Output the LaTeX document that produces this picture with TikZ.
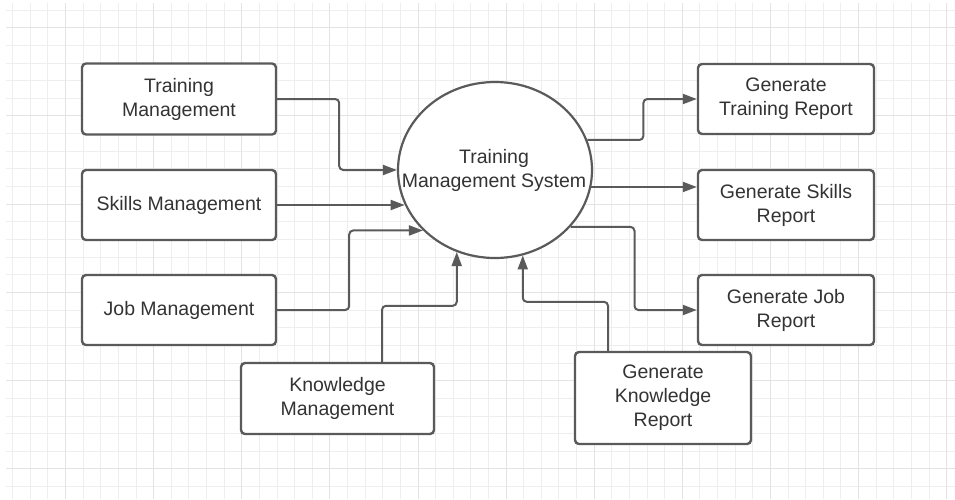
\documentclass[tikz,border=0pt]{standalone}
\usepackage{fontspec}
\setmainfont{Liberation Sans}
\usepackage{tikz}
\usetikzlibrary{arrows.meta,shapes.geometric}
\definecolor{gridlight}{HTML}{EEEEEE}
\definecolor{griddark}{HTML}{E3E3E3}
\definecolor{edge}{HTML}{5A5A5A}
\definecolor{ink}{HTML}{333333}
\tikzset{
  procbox/.style={draw=edge, line width=2.4pt, rounded corners=4pt, fill=white,
    text=ink, align=center, font=\fontsize{19.5}{24}\selectfont},
  flow/.style={draw=edge, line width=2pt, rounded corners=4pt,
    -{Triangle[length=14pt,width=10pt]}}
}

\begin{document}
\begin{tikzpicture}[x=1pt,y=-1pt]
            \useasboundingbox (0,0) rectangle (955,499);
            %grid
            \foreach \k in {0,...,53}
                \draw[gridlight, line width=0.9pt] (12.7+17.62*\k,3) -- (12.7+17.62*\k,499);
            \foreach \k in {0,...,27}
                \draw[gridlight, line width=0.9pt] (6,10+17.65*\k) -- (955,10+17.65*\k);
            \foreach \k in {3,8,...,53}
                \draw[griddark, line width=0.9pt] (12.7+17.62*\k,3) -- (12.7+17.62*\k,499);
            \foreach \k in {1,6,...,26}
                \draw[griddark, line width=0.9pt] (6,10+17.65*\k) -- (955,10+17.65*\k);

            %inputs
            \node[procbox, minimum width=194pt, minimum height=71pt] (tm) at (179,99) {Training\\Management};
            \node[procbox, minimum width=194pt, minimum height=70pt] (sm) at (179,205) {Skills Management};
            \node[procbox, minimum width=194pt, minimum height=70pt] (jm) at (179,310) {Job Management};
            \node[procbox, minimum width=193pt, minimum height=71pt] (km) at (337.5,398.5) {Knowledge\\Management};
            %system
            \node[procbox, ellipse, line width=2.2pt, inner sep=0pt, minimum width=194pt, minimum height=176pt] (sys) at (495,170) {};
            \node[text=ink, align=center, font=\fontsize{19.5}{24}\selectfont] (systext) at (494,170) {Training\\Management System};
            %reports
            \node[procbox, minimum width=176pt, minimum height=70pt] (gtr) at (786,99) {Generate\\Training Report};
            \node[procbox, minimum width=176pt, minimum height=70pt] (gsr) at (786,205) {Generate Skills\\Report};
            \node[procbox, minimum width=176pt, minimum height=70pt] (gjr) at (786,310) {Generate Job\\Report};
            \node[procbox, minimum width=176pt, minimum height=92pt] (gkr) at (663,398) {Generate\\Knowledge\\Report};

            \draw[flow] (tm.east) -- ++(62,0) |- (sys.west);
            \draw[flow] (sm.east) -- (sm.east -| sys.201);
            \draw[flow] (jm.east) -- ++(72,0) |- (sys.220);
            \draw[flow] ([xshift=44.5pt]km.north) -- ++(0,-56) -| (sys.245);
            \draw[flow] ([xshift=-55pt]gkr.north) -- ++(0,-49) -| (sys.288);

            \draw[flow] (sys.18) -- ++(56,0) |- (gtr.west);
            \draw[flow] (sys.350) -- (sys.350 -| gsr.west);
            \draw[flow] (sys.323) -- ++(64,0) |- (gjr.west);
        \end{tikzpicture}
\end{document}
